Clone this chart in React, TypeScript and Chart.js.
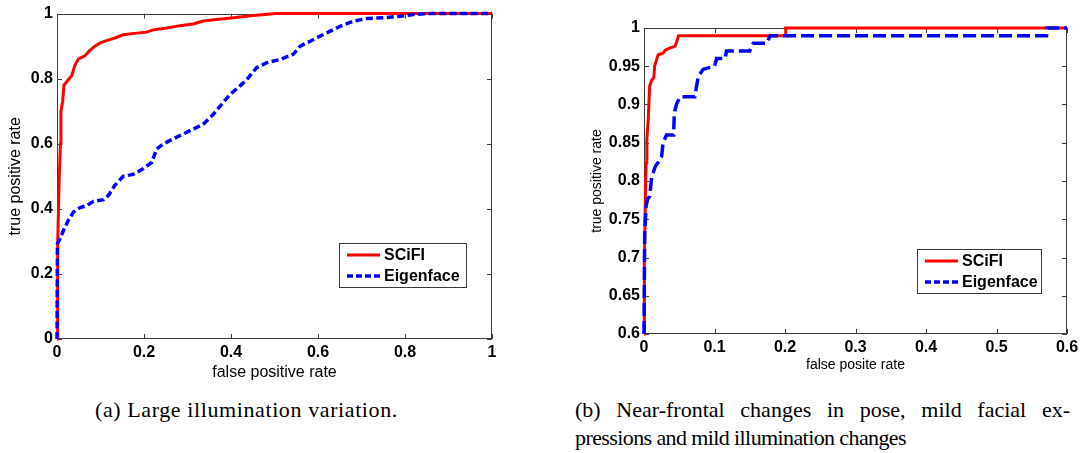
import React, { useEffect, useRef } from "react";
import { Chart, registerables } from "chart.js";

Chart.register(...registerables);

// ---------- Panel (a): Large illumination variation ----------
const aSciFiFpr = [0, 0.0015, 0.003, 0.005, 0.008, 0.009, 0.013, 0.016, 0.022, 0.034, 0.041, 0.049, 0.064, 0.074, 0.087, 0.099, 0.114, 0.133, 0.152, 0.183, 0.206, 0.221, 0.252, 0.283, 0.313, 0.336, 0.367, 0.405, 0.451, 0.505, 1];
const aSciFiTpr = [0, 0.29, 0.375, 0.49, 0.6, 0.7, 0.73, 0.78, 0.79, 0.81, 0.84, 0.86, 0.87, 0.885, 0.9, 0.91, 0.917, 0.925, 0.935, 0.94, 0.943, 0.95, 0.956, 0.963, 0.968, 0.977, 0.982, 0.987, 0.994, 1, 1];
const aEigenFpr = [0, 0.001, 0.007, 0.015, 0.026, 0.038, 0.053, 0.068, 0.084, 0.107, 0.118, 0.133, 0.152, 0.175, 0.198, 0.218, 0.229, 0.244, 0.267, 0.29, 0.313, 0.336, 0.359, 0.379, 0.398, 0.421, 0.44, 0.459, 0.482, 0.513, 0.543, 0.559, 0.582, 0.605, 0.628, 0.651, 0.682, 0.712, 0.75, 0.789, 0.819, 0.85, 1];
const aEigenTpr = [0, 0.294, 0.309, 0.334, 0.365, 0.39, 0.404, 0.41, 0.423, 0.428, 0.441, 0.472, 0.5, 0.506, 0.523, 0.543, 0.584, 0.599, 0.615, 0.63, 0.645, 0.66, 0.69, 0.722, 0.752, 0.778, 0.803, 0.834, 0.849, 0.859, 0.875, 0.9, 0.915, 0.931, 0.946, 0.961, 0.977, 0.985, 0.987, 0.992, 0.997, 1, 1];
const aTicks = [0, 0.2, 0.4, 0.6, 0.8, 1];
const aTickLabels = ["0", "0.2", "0.4", "0.6", "0.8", "1"];

// ---------- Panel (b): near-frontal pose changes ----------
const bSciFiFpr = [0, 0.0005, 0.002, 0.003, 0.004, 0.006, 0.008, 0.011, 0.014, 0.015, 0.018, 0.02, 0.027, 0.03, 0.037, 0.044, 0.046, 0.049, 0.2, 0.201, 0.6];
const bSciFiTpr = [0.6, 0.697, 0.784, 0.824, 0.854, 0.88, 0.924, 0.932, 0.935, 0.95, 0.959, 0.965, 0.967, 0.971, 0.974, 0.976, 0.981, 0.99, 0.99, 1, 1];
const bEigenFpr = [0, 0.001, 0.003, 0.005, 0.008, 0.011, 0.016, 0.02, 0.025, 0.027, 0.032, 0.042, 0.043, 0.046, 0.051, 0.072, 0.077, 0.084, 0.1, 0.103, 0.115, 0.117, 0.15, 0.155, 0.174, 0.179, 0.571, 0.572, 0.6];
const bEigenTpr = [0.6, 0.732, 0.767, 0.776, 0.78, 0.806, 0.819, 0.824, 0.832, 0.85, 0.86, 0.86, 0.889, 0.9, 0.91, 0.91, 0.937, 0.946, 0.95, 0.96, 0.96, 0.97, 0.97, 0.98, 0.98, 0.99, 0.99, 1, 1];
const bXTicks = [0, 0.1, 0.2, 0.3, 0.4, 0.5, 0.6];
const bXTickLabels = ["0", "0.1", "0.2", "0.3", "0.4", "0.5", "0.6"];
const bYTicks = [0.6, 0.65, 0.7, 0.75, 0.8, 0.85, 0.9, 0.95, 1];
const bYTickLabels = ["0.6", "0.65", "0.7", "0.75", "0.8", "0.85", "0.9", "0.95", "1"];

const seriesNames = ["SCiFI", "Eigenface"];
const captionA = "(a) Large illumination variation.";
const captionB1 = "(b) Near-frontal changes in pose, mild facial ex-";
const captionB2 = "pressions and mild illumination changes";

const FRAME = "#3a3a3a";
const SANS = "'Liberation Sans', Arial, Helvetica, sans-serif";

const framePlugin = {
  id: "matFrame",
  beforeDatasetsDraw(chart: any) {
    const { ctx, chartArea } = chart;
    const { left, right, top, bottom } = chartArea;
    const xs = chart.scales.x;
    const ys = chart.scales.y;
    ctx.save();
    ctx.strokeStyle = FRAME;
    ctx.lineWidth = 1;
    ctx.beginPath();
    ctx.rect(Math.round(left) + 0.5, Math.round(top) + 0.5, Math.round(right - left) - 1, Math.round(bottom - top) - 1);
    ctx.stroke();
    const tl = 5;
    ctx.beginPath();
    xs.ticks.forEach((t: any) => {
      const p = Math.round(xs.getPixelForValue(t.value)) + 0.5;
      ctx.moveTo(p, bottom);
      ctx.lineTo(p, bottom - tl);
      ctx.moveTo(p, top);
      ctx.lineTo(p, top + tl);
    });
    ys.ticks.forEach((t: any) => {
      const p = Math.round(ys.getPixelForValue(t.value)) + 0.5;
      ctx.moveTo(left, p);
      ctx.lineTo(left + tl, p);
      ctx.moveTo(right, p);
      ctx.lineTo(right - tl, p);
    });
    ctx.stroke();
    ctx.restore();
  },
};

const legendPlugin = {
  id: "boxLegend",
  afterDatasetsDraw(chart: any, _args: any, opts: any) {
    const { ctx, chartArea } = chart;
    const w = opts.width;
    const h = opts.height;
    const bx = Math.round(chartArea.right - opts.right - w);
    const by = Math.round(chartArea.bottom - opts.bottom - h);
    ctx.save();
    ctx.fillStyle = "#ffffff";
    ctx.fillRect(bx, by, w, h);
    ctx.strokeStyle = FRAME;
    ctx.lineWidth = 1;
    ctx.strokeRect(bx + 0.5, by + 0.5, w - 1, h - 1);
    chart.data.datasets.forEach((ds: any, i: number) => {
      const yy = by + 12 + i * 21;
      ctx.beginPath();
      ctx.strokeStyle = ds.borderColor;
      ctx.lineWidth = ds.borderWidth;
      ctx.setLineDash(ds.borderDash && ds.borderDash.length ? [6, 3] : []);
      ctx.moveTo(bx + 8, yy);
      ctx.lineTo(bx + 41, yy);
      ctx.stroke();
      ctx.setLineDash([]);
      ctx.fillStyle = "#000";
      ctx.font = `bold 16px ${SANS}`;
      ctx.textBaseline = "middle";
      ctx.textAlign = "left";
      ctx.fillText(ds.label, bx + 45, yy + 1);
    });
    ctx.restore();
  },
};

function toPoints(xs: number[], ys: number[]) {
  return xs.map((x, i) => ({ x, y: ys[i] }));
}

function makeConfig(p: any) {
  return {
    type: "line",
    data: {
      datasets: [
        {
          label: seriesNames[0],
          data: toPoints(p.sFpr, p.sTpr),
          borderColor: "#ff0000",
          borderWidth: 3,
          pointRadius: 0,
          tension: 0,
          order: 1,
          clip: 6,
        },
        {
          label: seriesNames[1],
          data: toPoints(p.eFpr, p.eTpr),
          borderColor: "#0000ff",
          borderWidth: 3.5,
          borderDash: p.dash,
          pointRadius: 0,
          tension: 0,
          order: 0,
          clip: 6,
        },
      ],
    },
    options: {
      responsive: false,
      animation: false,
      events: [],
      layout: { padding: p.padding },
      plugins: {
        legend: { display: false },
        tooltip: { enabled: false },
        boxLegend: p.legend,
      },
      scales: {
        x: {
          type: "linear",
          min: p.xTicks[0],
          max: p.xTicks[p.xTicks.length - 1],
          grid: { display: false, drawTicks: false },
          border: { display: false },
          afterBuildTicks: (s: any) => {
            s.ticks = p.xTicks.map((v: number) => ({ value: v }));
          },
          afterFit: (s: any) => {
            s.height = p.xHeight;
          },
          ticks: {
            padding: 4,
            color: "#000",
            font: { family: SANS, size: 16, weight: "bold" },
            callback: (v: number) => p.xLabels[p.xTicks.findIndex((t: number) => Math.abs(t - v) < 1e-9)],
          },
          title: {
            display: true,
            text: p.xTitle,
            color: "#000",
            font: { family: SANS, size: p.titleSize },
            padding: { top: 0, bottom: p.xTitlePad },
          },
        },
        y: {
          type: "linear",
          min: p.yTicks[0],
          max: p.yTicks[p.yTicks.length - 1],
          grid: { display: false, drawTicks: false },
          border: { display: false },
          afterBuildTicks: (s: any) => {
            s.ticks = p.yTicks.map((v: number) => ({ value: v }));
          },
          afterFit: (s: any) => {
            s.width = p.yWidth;
          },
          ticks: {
            padding: 4,
            color: "#000",
            font: { family: SANS, size: 16, weight: "bold" },
            callback: (v: number) => p.yLabels[p.yTicks.findIndex((t: number) => Math.abs(t - v) < 1e-9)],
          },
          title: {
            display: true,
            text: "true positive rate",
            color: "#000",
            font: { family: SANS, size: p.titleSize },
            padding: { top: p.yTitlePad, bottom: 0 },
          },
        },
      },
    },
    plugins: [framePlugin, legendPlugin],
  } as any;
}

function RocChart(props: { params: any; width: number; height: number; style: any }) {
  const ref = useRef<HTMLCanvasElement | null>(null);
  useEffect(() => {
    if (!ref.current) return;
    const chart = new Chart(ref.current, makeConfig(props.params));
    return () => chart.destroy();
  }, []);
  return <canvas ref={ref} width={props.width} height={props.height} style={{ position: "absolute", ...props.style }} />;
}

const paramsA = {
  sFpr: aSciFiFpr,
  sTpr: aSciFiTpr,
  eFpr: aEigenFpr,
  eTpr: aEigenTpr,
  dash: [7, 3.5],
  xTicks: aTicks,
  xLabels: aTickLabels,
  yTicks: aTicks,
  yLabels: aTickLabels,
  xTitle: "false positive rate",
  titleSize: 16,
  xTitlePad: 8,
  yTitlePad: 6,
  xHeight: 51,
  yWidth: 57,
  padding: { left: 0, top: 12, right: 48, bottom: 0 },
  legend: { width: 128, height: 45, right: 25, bottom: 51 },
};

const paramsB = {
  sFpr: bSciFiFpr,
  sTpr: bSciFiTpr,
  eFpr: bEigenFpr,
  eTpr: bEigenTpr,
  dash: [13, 5],
  xTicks: bXTicks,
  xLabels: bXTickLabels,
  yTicks: bYTicks,
  yLabels: bYTickLabels,
  xTitle: "false posite rate",
  titleSize: 14,
  xTitlePad: 16,
  yTitlePad: 29,
  xHeight: 56,
  yWidth: 84,
  padding: { left: 0, top: 28, right: 19, bottom: 0 },
  legend: { width: 125, height: 45, right: 25, bottom: 40 },
};

const captionStyle: any = {
  position: "absolute",
  fontFamily: "'Liberation Serif', 'Times New Roman', serif",
  fontSize: 22,
  lineHeight: "28px",
  color: "#000",
  whiteSpace: "nowrap",
};

export default function App() {
  return (
    <div style={{ position: "absolute", left: 0, top: 0, width: 1086, height: 453, background: "#fff", overflow: "hidden" }}>
      <RocChart params={paramsA} width={540} height={390} style={{ left: 0, top: 0 }} />
      <RocChart params={paramsB} width={526} height={390} style={{ left: 560, top: 0 }} />
      <div style={{ ...captionStyle, left: 95, top: 396, letterSpacing: "0.6px" }}>{captionA}</div>
      <div style={{ ...captionStyle, left: 575, top: 396, width: 495 }}>
        <div style={{ textAlign: "justify", textAlignLast: "justify", whiteSpace: "normal" }}>{captionB1}</div>
        <div style={{ letterSpacing: "-0.6px" }}>{captionB2}</div>
      </div>
    </div>
  );
}
